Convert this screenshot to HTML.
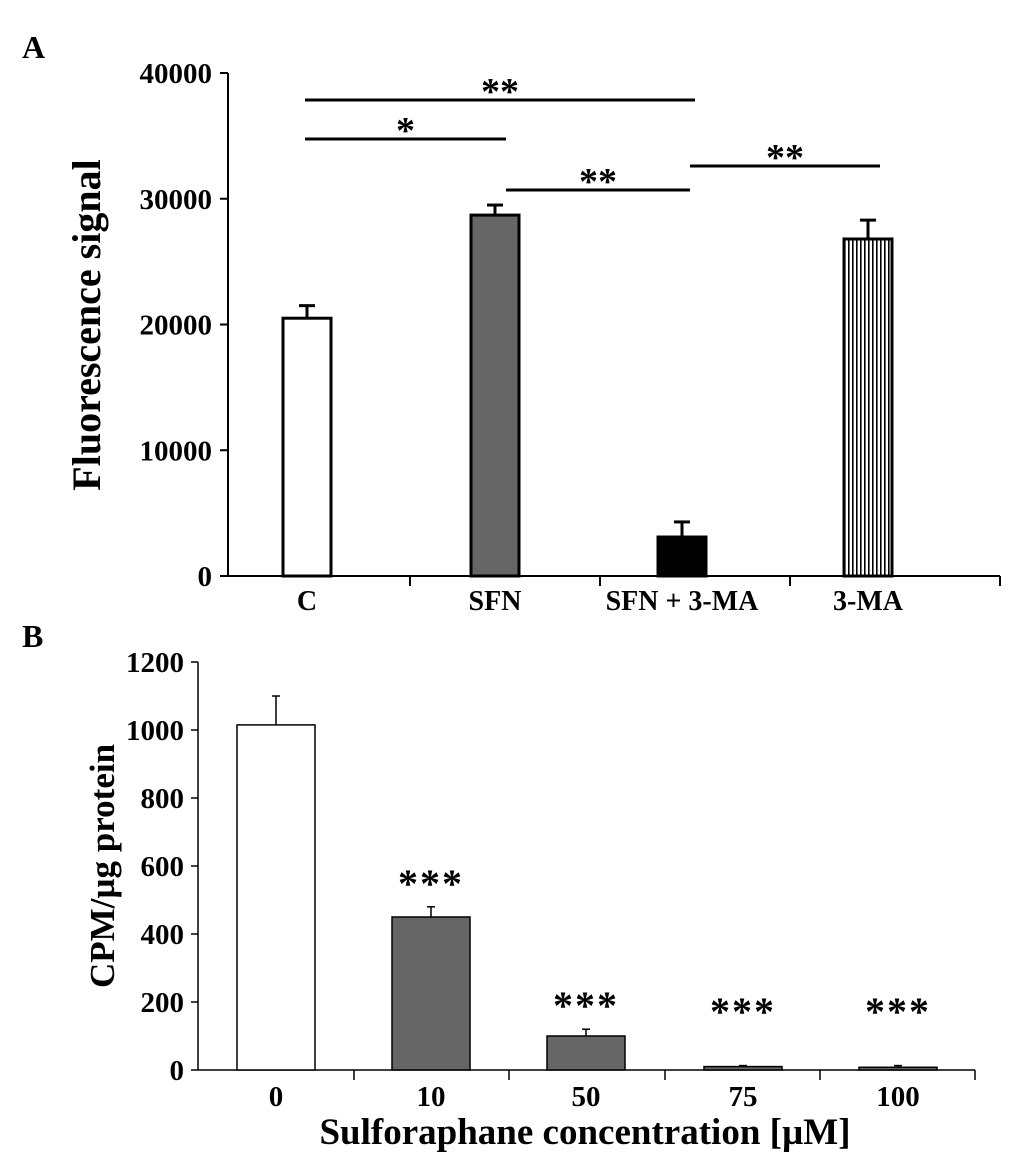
<!DOCTYPE html>
<html><head><meta charset="utf-8"><style>
body{margin:0;background:#fff}
svg text{font-family:"Liberation Serif",serif;font-weight:bold;fill:#000}
</style></head><body>
<svg width="1033" height="1158" xmlns="http://www.w3.org/2000/svg">
<defs><pattern id="vl" width="4" height="4" patternUnits="userSpaceOnUse"><rect width="4" height="4" fill="#fff"/><rect width="1.6" height="4" fill="#000"/></pattern></defs>
<text x="22" y="58" font-size="32">A</text>
<text x="22" y="647" font-size="32">B</text>
<g id="A"></g><g id="B"></g>
</svg>
<script>
const catsA=["C","SFN","SFN + 3-MA","3-MA"];
const valsA=[20500,28700,3100,26800];
const errA=[1000,800,1200,1500];
const ticksA=[0,10000,20000,30000,40000];
const catsB=["0","10","50","75","100"];
const valsB=[1015,450,100,10,8];
const errB=[85,30,20,3,5];
const ticksB=[0,200,400,600,800,1000,1200];
const starsB=["","***","***","***","***"];
const NS="http://www.w3.org/2000/svg";
function mk(p,t,a){const e=document.createElementNS(NS,t);for(const k in a)e.setAttribute(k,a[k]);p.appendChild(e);return e;}
// Panel A
const gA=document.getElementById('A');
const yA=v=>576-v*(503/40000);
const cA=[307,495,682,868];
const fills=["#fff","#666","#000","url(#vl)"];
let ax=mk(gA,'line',{x1:228,y1:73,x2:228,y2:576,stroke:'#000','stroke-width':2});

ax=mk(gA,'line',{x1:228,y1:576,x2:1000,y2:576,stroke:'#000','stroke-width':2});

ticksA.forEach(t=>{mk(gA,'line',{x1:220,y1:yA(t),x2:228,y2:yA(t),stroke:'#000','stroke-width':2});
const tx=mk(gA,'text',{x:212,y:yA(t)+10,'font-size':29,'text-anchor':'end'});tx.textContent=t;
});
[410,600,790,1000].forEach(x=>mk(gA,'line',{x1:x,y1:576,x2:x,y2:586,stroke:'#000','stroke-width':2}));
valsA.forEach((v,i)=>{const x=cA[i];
mk(gA,'line',{x1:x,y1:yA(v),x2:x,y2:yA(v+errA[i]),stroke:'#000','stroke-width':3});
mk(gA,'line',{x1:x-8,y1:yA(v+errA[i]),x2:x+8,y2:yA(v+errA[i]),stroke:'#000','stroke-width':3});
const r=mk(gA,'rect',{x:x-24,y:yA(v),width:48,height:576-yA(v),fill:fills[i],stroke:'#000','stroke-width':3});

const t=mk(gA,'text',{x:x,y:610,'font-size':28,'text-anchor':'middle'});t.textContent=catsA[i];
});
[[305,695,100,"**"],[305,506,139,"*"],[506,690,190,"**"],[690,880,166,"**"]].forEach(s=>{
mk(gA,'line',{x1:s[0],y1:s[2],x2:s[1],y2:s[2],stroke:'#000','stroke-width':3});
const t=mk(gA,'text',{x:(s[0]+s[1])/2,y:s[2]+4,'font-size':38,'text-anchor':'middle'});t.textContent=s[3];
});
let yt=mk(gA,'text',{x:0,y:0,'font-size':40,'text-anchor':'middle',transform:'translate(100,325) rotate(-90)'});yt.textContent="Fluorescence signal";

// Panel B
const gB=document.getElementById('B');
const yB=v=>1070-v*(408/1200);
const cB=[276,431,586,743,898];
ax=mk(gB,'line',{x1:198,y1:662,x2:198,y2:1070,stroke:'#000','stroke-width':1.5});

ax=mk(gB,'line',{x1:198,y1:1070,x2:975,y2:1070,stroke:'#000','stroke-width':1.5});

ticksB.forEach(t=>{mk(gB,'line',{x1:191,y1:yB(t),x2:198,y2:yB(t),stroke:'#000','stroke-width':1.5});
const tx=mk(gB,'text',{x:184,y:yB(t)+10,'font-size':29,'text-anchor':'end'});tx.textContent=t;
});
[354,509,665,820,975].forEach(x=>mk(gB,'line',{x1:x,y1:1070,x2:x,y2:1080,stroke:'#000','stroke-width':1.5}));
valsB.forEach((v,i)=>{const x=cB[i];
mk(gB,'line',{x1:x,y1:yB(v),x2:x,y2:yB(v+errB[i]),stroke:'#000','stroke-width':1.5});
mk(gB,'line',{x1:x-4,y1:yB(v+errB[i]),x2:x+4,y2:yB(v+errB[i]),stroke:'#000','stroke-width':1.5});
const r=mk(gB,'rect',{x:x-39,y:yB(v),width:78,height:1070-yB(v),fill:i?'#666':'#fff',stroke:'#000','stroke-width':1.5});

const t=mk(gB,'text',{x:x,y:1106,'font-size':29,'text-anchor':'middle'});t.textContent=catsB[i];

if(starsB[i]){const s=mk(gB,'text',{x:x,y:Math.min(yB(v+errB[i])-10,1025),'font-size':40,'text-anchor':'middle','letter-spacing':'2'});s.textContent=starsB[i];
}});
yt=mk(gB,'text',{x:0,y:0,'font-size':35,'text-anchor':'middle',transform:'translate(114,866) rotate(-90)'});yt.textContent="CPM/µg protein";

let xt=mk(gB,'text',{x:585,y:1144,'font-size':37,'text-anchor':'middle'});xt.textContent="Sulforaphane concentration [µM]";

</script>
</body></html>
